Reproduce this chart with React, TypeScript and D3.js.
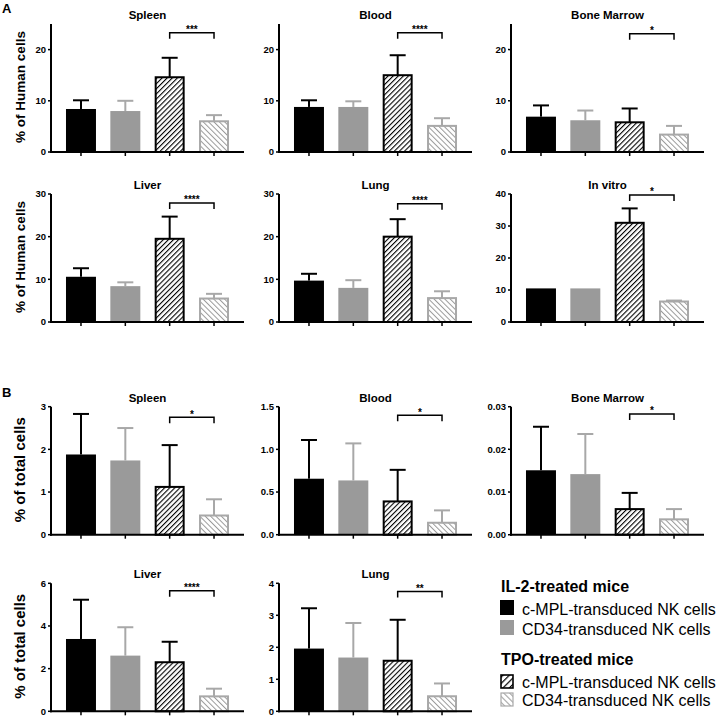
import React from "react";
import * as d3 from "d3";

// ---- data ----
const groups = ["c-MPL IL-2", "CD34 IL-2", "c-MPL TPO", "CD34 TPO"];
const legendHeaders = ["IL-2-treated mice", "TPO-treated mice"];
const legendLabels = ["c-MPL-transduced NK cells", "CD34-transduced NK cells", "c-MPL-transduced NK cells", "CD34-transduced NK cells"];
const yLabels = ["% of Human cells", "% of total cells"];

const aSpleenMean = [8.4, 8.0, 14.6, 6.0];
const aSpleenErr = [10.1, 10.0, 18.4, 7.2];
const aBloodMean = [8.8, 8.8, 15.0, 5.1];
const aBloodErr = [10.1, 9.9, 18.9, 6.6];
const aBMMean = [6.9, 6.2, 5.8, 3.4];
const aBMErr = [9.1, 8.1, 8.5, 5.1];
const aLiverMean = [10.6, 8.4, 19.5, 5.5];
const aLiverErr = [12.6, 9.3, 24.7, 6.6];
const aLungMean = [9.7, 8.0, 20.0, 5.6];
const aLungErr = [11.3, 9.8, 24.1, 7.2];
const aVitroMean = [10.5, 10.5, 31.0, 6.4];
const aVitroErr = [10.5, 10.5, 35.5, 6.7];

const bSpleenMean = [1.88, 1.74, 1.12, 0.45];
const bSpleenErr = [2.83, 2.5, 2.1, 0.83];
const bBloodMean = [0.656, 0.636, 0.39, 0.14];
const bBloodErr = [1.11, 1.07, 0.76, 0.285];
const bBMMean = [0.0151, 0.0142, 0.006, 0.0036];
const bBMErr = [0.0253, 0.0236, 0.0098, 0.006];
const bLiverMean = [3.39, 2.61, 2.3, 0.7];
const bLiverErr = [5.23, 3.94, 3.26, 1.06];
const bLungMean = [1.96, 1.68, 1.58, 0.47];
const bLungErr = [3.22, 2.76, 2.86, 0.87];

const titles = ["Spleen", "Blood", "Bone Marrow", "Liver", "Lung", "In vitro", "Spleen", "Blood", "Bone Marrow", "Liver", "Lung"];
const yMaxes = [25, 25, 25, 30, 30, 40, 3, 1.5, 0.03, 6, 4];
const tickSteps = [10, 10, 10, 10, 10, 10, 1, 0.5, 0.01, 2, 1];
const tickFormats = ["d", "d", "d", "d", "d", "d", "d", ".1f", ".2f", "d", "d"];
const stars = ["***", "****", "*", "****", "****", "*", "*", "*", "*", "****", "**"];
const bracketValues = [23.3, 23.3, 23.1, 27.9, 27.7, 39.7, 2.75, 1.4, 0.0283, 5.65, 3.74];
const means = [aSpleenMean, aBloodMean, aBMMean, aLiverMean, aLungMean, aVitroMean, bSpleenMean, bBloodMean, bBMMean, bLiverMean, bLungMean];
const errs = [aSpleenErr, aBloodErr, aBMErr, aLiverErr, aLungErr, aVitroErr, bSpleenErr, bBloodErr, bBMErr, bLiverErr, bLungErr];

// ---- layout ----
const W = 723, H = 716;
const colX = [51, 279, 511];
const rowTop = [24, 194, 406.7, 583.3];
const plotW = 193, plotH = 128;
const FONT = "'Liberation Sans', Arial, Helvetica, sans-serif";
const GRAY = "#9a9a9a";
const GRAY_LINE = "#a8a8a8";

function Panel({ idx }: { idx: number }) {
  const col = idx % 3;
  const row = Math.floor(idx / 3);
  const x0 = colX[col];
  const top = rowTop[row];
  const x = d3.scaleBand<string>().domain(groups).range([x0, x0 + plotW]).paddingInner(0.324).paddingOuter(0.338);
  const y = d3.scaleLinear().domain([0, yMaxes[idx]]).range([top + plotH, top]);
  const ticks = d3.range(0, yMaxes[idx] + tickSteps[idx] / 2, tickSteps[idx]);
  const fmt = d3.format(tickFormats[idx]);
  const bw = x.bandwidth();
  const m = means[idx];
  const e = errs[idx];
  const base = y(0);
  const c2 = (x(groups[2]) as number) + bw / 2;
  const c3 = (x(groups[3]) as number) + bw / 2;
  const by = y(bracketValues[idx]);
  return (
    <g>
      <text x={x0 + plotW / 2} y={top - 5} textAnchor="middle" fontFamily={FONT} fontWeight="bold" fontSize={11.5}>
        {titles[idx]}
      </text>
      {groups.map((g, i) => {
        const bx = x(g) as number;
        const cx = bx + bw / 2;
        const yt = y(m[i]);
        const ye = y(e[i]);
        const lineColor = i === 0 || i === 2 ? "#000" : GRAY_LINE;
        const showErr = e[i] > m[i] + 1e-9;
        return (
          <g key={g}>
            {showErr && (
              <g stroke={lineColor} strokeWidth={2}>
                <line x1={cx} x2={cx} y1={yt} y2={ye} />
                <line x1={cx - 8} x2={cx + 8} y1={ye} y2={ye} />
              </g>
            )}
            {i === 0 && <rect x={bx} y={yt} width={bw} height={base - yt} fill="#000" />}
            {i === 1 && <rect x={bx} y={yt} width={bw} height={base - yt} fill={GRAY} />}
            {i === 2 && (
              <rect x={bx + 1} y={yt} width={bw - 2} height={base - yt} fill="url(#hatchBlack)" stroke="#000" strokeWidth={2} />
            )}
            {i === 3 && (
              <rect x={bx + 1} y={yt} width={bw - 2} height={base - yt} fill="url(#hatchGray)" stroke={GRAY_LINE} strokeWidth={2} />
            )}
            <line x1={cx} x2={cx} y1={base} y2={base + 4} stroke="#000" strokeWidth={1.5} />
          </g>
        );
      })}
      {/* axes */}
      <line x1={x0} x2={x0} y1={top} y2={base + 1} stroke="#000" strokeWidth={2} />
      <line x1={x0 - 1} x2={x0 + plotW} y1={base} y2={base} stroke="#000" strokeWidth={2} />
      {ticks.map((t) => (
        <g key={t}>
          <line x1={x0 - 3} x2={x0} y1={y(t)} y2={y(t)} stroke="#000" strokeWidth={1.5} />
          <text x={x0 - 5} y={y(t)} dy="0.35em" textAnchor="end" fontFamily={FONT} fontWeight="bold" fontSize={9.5}>
            {fmt(t)}
          </text>
        </g>
      ))}
      {/* significance bracket */}
      <path d={`M${c2},${by + 6}V${by}H${c3}V${by + 6}`} fill="none" stroke="#000" strokeWidth={1.5} />
      <text x={(c2 + c3) / 2} y={by + 0.5} textAnchor="middle" fontFamily={FONT} fontWeight="bold" fontSize={10}>
        {stars[idx]}
      </text>
    </g>
  );
}

export default function App() {
  const legendX = 500;
  return (
    <svg width={W} height={H} style={{ position: "absolute", left: 0, top: 0, background: "#fff" }}>
      <defs>
        <pattern id="hatchBlack" patternUnits="userSpaceOnUse" width={3.6} height={3.6} patternTransform="rotate(45)">
          <rect width={3.6} height={3.6} fill="#fff" />
          <line x1={0} y1={0} x2={0} y2={3.6} stroke="#000" strokeWidth={2.2} />
        </pattern>
        <pattern id="hatchGray" patternUnits="userSpaceOnUse" width={3.8} height={3.8} patternTransform="rotate(-45)">
          <rect width={3.8} height={3.8} fill="#fff" />
          <line x1={0} y1={0} x2={0} y2={3.8} stroke={GRAY} strokeWidth={2} />
        </pattern>
        <pattern id="hatchBlackL" patternUnits="userSpaceOnUse" width={4.5} height={4.5} patternTransform="rotate(45)">
          <rect width={4.5} height={4.5} fill="#fff" />
          <line x1={0} y1={0} x2={0} y2={4.5} stroke="#000" strokeWidth={2.4} />
        </pattern>
        <pattern id="hatchGrayL" patternUnits="userSpaceOnUse" width={4.2} height={4.2} patternTransform="rotate(-45)">
          <rect width={4.2} height={4.2} fill="#fff" />
          <line x1={0} y1={0} x2={0} y2={4.2} stroke={GRAY} strokeWidth={2} />
        </pattern>
      </defs>
      <rect width={W} height={H} fill="#fff" />
      <text x={2} y={13} fontFamily={FONT} fontWeight="bold" fontSize={13}>A</text>
      <text x={2} y={397} fontFamily={FONT} fontWeight="bold" fontSize={13}>B</text>
      {rowTop.map((t, r) => (
        <text
          key={r}
          transform={`translate(25,${t + plotH / 2 - 1}) rotate(-90)`}
          textAnchor="middle"
          fontFamily={FONT}
          fontWeight="bold"
          fontSize={r < 2 ? 13.5 : 15}
        >
          {yLabels[r < 2 ? 0 : 1]}
        </text>
      ))}
      {titles.map((_, i) => (
        <Panel key={i} idx={i} />
      ))}
      {/* legend */}
      <text x={legendX + 1} y={592} fontFamily={FONT} fontWeight="bold" fontSize={16}>{legendHeaders[0]}</text>
      <rect x={legendX} y={600} width={14} height={15} fill="#000" />
      <text x={522} y={614.5} fontFamily={FONT} fontSize={16}>{legendLabels[0]}</text>
      <rect x={legendX} y={620} width={14} height={15} fill={GRAY} />
      <text x={522} y={634.5} fontFamily={FONT} fontSize={16}>{legendLabels[1]}</text>
      <text x={legendX + 1} y={665} fontFamily={FONT} fontWeight="bold" fontSize={16}>{legendHeaders[1]}</text>
      <rect x={legendX + 1} y={675} width={12} height={13} fill="url(#hatchBlackL)" stroke="#000" strokeWidth={1.6} />
      <text x={522} y={688} fontFamily={FONT} fontSize={16}>{legendLabels[2]}</text>
      <rect x={legendX + 1} y={693} width={12} height={13} fill="url(#hatchGrayL)" stroke={GRAY_LINE} strokeWidth={1.2} />
      <text x={522} y={705.5} fontFamily={FONT} fontSize={16}>{legendLabels[3]}</text>
    </svg>
  );
}
